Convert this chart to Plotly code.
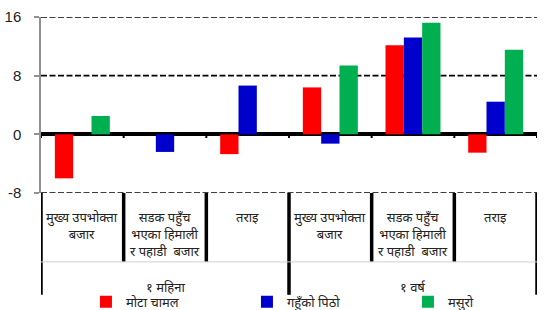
import plotly.graph_objects as go

categories = ["मुख्य उपभोक्ता<br>बजार", "सडक पहुँच<br>भएका हिमाली<br>र पहाडी  बजार", "तराइ",
              "मुख्य उपभोक्ता<br>बजार", "सडक पहुँच<br>भएका हिमाली<br>र पहाडी  बजार", "तराइ"]
periods = ["१ महिना", "१ वर्ष"]
series_names = ["मोटा चामल", "गहुँको पिठो", "मसुरो"]
rice = [-6.0, 0, -2.7, 6.4, 12.15, -2.5]
flour = [0, -2.4, 6.65, -1.27, 13.2, 4.45]
lentil = [2.5, 0, 0, 9.4, 15.2, 11.55]
colors = ["#ff0000", "#0000cc", "#00b050"]
yticks = [-8, 0, 8, 16]

W, H = 547, 310
L, R, T, B = 40.5, 10, 16.7, 117
ph = H - T - B
pw = W - L - R

def py(p):  # page pixel -> paper y
    return (H - B - p) / ph

def px(p):  # page pixel -> paper x
    return (p - L) / pw

DEV = "Noto Sans Devanagari, Lohit Devanagari, Noto Sans, sans-serif"

fig = go.Figure()
xs = list(range(len(categories)))
for name, vals, c in zip(series_names, [rice, flour, lentil], colors):
    fig.add_trace(go.Bar(x=xs, y=vals, name=name, marker=dict(color=c, line=dict(width=0))))

shapes = []
for v in yticks:
    if v != 0:
        shapes.append(dict(type="line", xref="paper", yref="y", x0=0, x1=1, y0=v, y1=v, layer="below",
                           line=dict(color="black", width=1.6, dash="6px,2.5px")))
for i in range(len(categories) + 1):
    shapes.append(dict(type="line", xref="x", yref="y", x0=i - 0.5, x1=i - 0.5, y0=0, y1=-0.5,
                       line=dict(color="black", width=2)))
n_per = len(categories) // len(periods)
for i in range(len(categories) + 1):
    outer = (i % n_per == 0)
    shapes.append(dict(type="line", xref="x", yref="paper", x0=i - 0.5, x1=i - 0.5,
                       y0=py(193), y1=py(295 if outer else 262),
                       line=dict(color="black", width=3.5)))
shapes.append(dict(type="line", xref="paper", yref="paper", x0=0, x1=1, y0=py(262), y1=py(262),
                   line=dict(color="#d0d0d0", width=1)))

annotations = []
for i, c in enumerate(categories):
    annotations.append(dict(x=i, y=py(208), xref="x", yref="paper", text=c, showarrow=False,
                            yanchor="top", xanchor="center",
                            font=dict(family=DEV, size=13, color="#222")))
for j, p in enumerate(periods):
    annotations.append(dict(x=j * n_per + (n_per - 1) / 2, y=py(288.5), xref="x", yref="paper", text=p,
                            showarrow=False, yanchor="middle", xanchor="center",
                            font=dict(family=DEV, size=13, color="#222")))

fig.update_layout(
    width=W, height=H, margin=dict(l=L, r=R, t=T, b=B, autoexpand=False),
    paper_bgcolor="white", plot_bgcolor="white",
    barmode="group", bargap=0.335, bargroupgap=0,
    showlegend=True,
    legend=dict(orientation="h", x=px(85.5), xanchor="left", y=py(302), yanchor="middle",
                entrywidth=116, entrywidthmode="pixels", font=dict(family=DEV, size=13, color="#222"),
                bgcolor="rgba(0,0,0,0)", itemclick=False, tracegroupgap=0),
    xaxis=dict(range=[-0.5, len(categories) - 0.5], showticklabels=False, showgrid=False,
               zeroline=False, showline=False, ticks=""),
    yaxis=dict(range=[-8, 16], tickvals=yticks, ticktext=[str(v) for v in yticks],
               showgrid=False,
               zeroline=True, zerolinecolor="black", zerolinewidth=3.5,
               showline=True, linecolor="#909090", linewidth=1.5,
               ticks="outside", ticklen=5, tickcolor="#909090", tickwidth=1.5,
               ticklabelstandoff=10,
               tickfont=dict(family="Liberation Sans, Arial", size=15, color="#222")),
    shapes=shapes, annotations=annotations,
)
fig.write_html("out.html", config={"displayModeBar": False},
               post_script="document.body.style.margin='0';document.body.style.overflow='hidden';")
